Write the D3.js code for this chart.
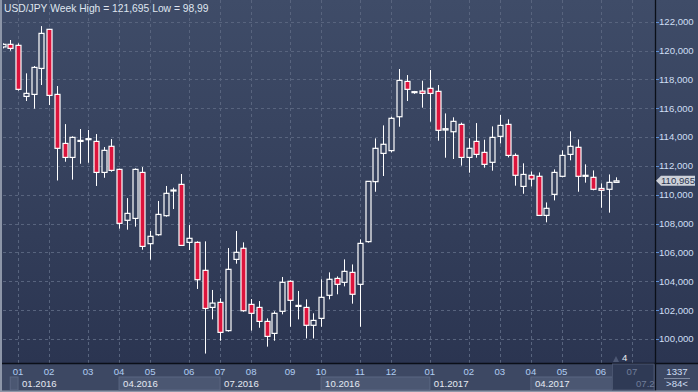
<!DOCTYPE html>
<html>
<head>
<meta charset="utf-8">
<script src="https://cdn.jsdelivr.net/npm/d3@7"></script>
<style>
html,body{margin:0;padding:0;background:#2c3653;}
svg{display:block;font-family:"Liberation Sans",Arial,sans-serif;}
</style>
</head>
<body>
<svg id="chart" width="698" height="392"></svg>
<script>
// ---- DATA (weekly USD/JPY candles) ----
const opens  = [120.25,120.43,120.36,116.82,116.96,118.76,121.47,116.96,113.56,112.59,
                113.70,113.82,113.70,111.55,113.36,111.76,108.23,108.36,111.55,106.61,
                107.23,108.55,110.26,110.72,106.70,106.70,104.76,102.19,102.54,100.58,
                105.52,106.29,102.40,102.19,101.22,100.39,101.92,104.00,102.26,102.19,
                100.95,101.43,103.03,104.20,103.93,104.62,103.79,106.75,110.91,112.87,
                113.06,115.41,117.86,117.10,117.19,117.38,117.17,114.49,114.37,114.88,
                112.59,113.70,112.94,112.25,114.05,114.88,112.73,110.58,111.35,111.28,
                108.57,110.03,111.28,112.80,113.29,111.28,111.21,110.44,110.38,110.86];
const highs  = [120.50,120.73,120.50,118.42,118.93,121.695,121.50,117.54,114.90,114.05,
                114.56,114.49,114.21,113.31,113.86,111.80,109.77,111.83,111.92,107.49,
                109.57,110.61,110.49,111.44,107.90,106.77,106.77,103.40,102.82,106.31,
                107.49,106.70,102.77,102.63,101.43,101.92,104.30,104.07,103.33,102.75,
                101.78,104.14,104.62,104.34,105.52,105.17,106.91,110.95,113.91,114.81,
                115.41,118.72,118.30,117.20,117.91,118.65,117.61,115.64,115.37,115.00,
                113.91,114.97,113.82,114.74,115.53,115.23,112.87,112.18,111.62,111.55,
                109.47,111.76,113.08,114.40,113.84,112.11,111.69,110.79,111.41,111.21];
const lows   = [120.15,119.99,117.22,116.50,115.97,117.61,116.22,110.99,112.29,111.05,
                112.15,112.22,110.61,111.18,111.60,107.65,107.58,107.79,106.19,105.50,
                107.16,108.48,109.01,106.45,106.17,103.47,98.99,101.36,99.88,100.51,
                105.22,101.89,100.58,100.78,99.47,99.88,101.71,100.85,101.36,100.04,
                100.04,100.85,102.75,103.10,103.65,102.45,100.85,106.68,110.21,111.30,
                112.94,114.72,116.50,117.00,116.04,115.07,113.75,112.57,112.48,112.02,
                111.53,112.57,111.88,111.67,113.56,112.59,110.63,110.07,110.58,108.55,
                108.09,109.61,111.21,112.39,110.21,110.84,110.31,109.10,108.76,110.86];
const closes = [120.43,120.15,117.31,117.03,118.83,121.19,116.89,113.22,112.59,113.98,
                113.77,113.89,111.55,113.08,111.69,108.02,108.71,111.76,106.42,107.12,
                108.64,110.10,110.33,106.49,106.98,104.11,102.12,102.49,100.46,104.83,
                106.01,101.96,101.78,101.22,100.18,101.78,103.93,102.68,102.33,100.95,
                101.29,102.89,104.14,103.79,104.69,103.10,106.63,110.93,113.22,113.50,
                115.30,117.93,117.31,117.15,117.03,117.03,114.47,114.58,115.09,112.59,
                113.22,112.80,112.11,113.98,114.81,112.73,111.35,111.41,111.09,108.57,
                109.06,111.55,112.73,113.36,111.28,111.35,110.38,110.31,110.86,110.965];

const monthIdx    = [2,6,11,15,19,24,28,32,37,41,46,50,55,60,64,68,72,77,81];
const monthLabels = ["01","02","03","04","05","06","07","08","09","10","11","12","01","02","03","04","05","06","07"];
const quarterIdx    = [2,15,28,41,55,68,81];
const quarterLabels = ["01.2016","04.2016","07.2016","10.2016","01.2017","04.2017","07.2"];
const yTicks = [100,102,104,106,108,110,112,114,116,118,120,122];
const title = "USD/JPY Week High = 121,695 Low = 98,99";
const lastPrice = 110.965;

// ---- LAYOUT ----
const W = 698, H = 392;
const plotLeft = 3, plotRight = 655, plotBottom = 363;
const FS = 9.6;
const svg = d3.select("#chart");

const x = d3.scaleLinear().domain([0, 81]).range([2.5, 631.9]);
const y = d3.scaleLinear().domain([100, 122]).range([339, 21.7]);
const fmt = v => d3.format(",.3f")(v).replace(".", "#").replace(/,/g, ".").replace("#", ",");

const defs = svg.append("defs");
const g1 = defs.append("linearGradient").attr("id","bg").attr("gradientUnits","userSpaceOnUse")
  .attr("x1",0).attr("y1",0).attr("x2",0).attr("y2",plotBottom);
g1.append("stop").attr("offset","0%").attr("stop-color","#3f4c68");
g1.append("stop").attr("offset","100%").attr("stop-color","#2b3551");
defs.append("clipPath").attr("id","clip").append("rect")
  .attr("x",plotLeft).attr("y",0).attr("width",plotRight-plotLeft).attr("height",plotBottom);

// backgrounds
svg.append("rect").attr("x",0).attr("y",0).attr("width",W).attr("height",plotBottom).attr("fill","url(#bg)");
svg.append("rect").attr("x",0).attr("y",plotBottom).attr("width",W).attr("height",H-plotBottom).attr("fill","#3d4863");

// grid
const grid = svg.append("g").attr("clip-path","url(#clip)");
grid.selectAll("line.h").data(yTicks).join("line")
  .attr("x1",plotLeft).attr("x2",plotRight)
  .attr("y1",d=>Math.round(y(d))+0.5).attr("y2",d=>Math.round(y(d))+0.5)
  .attr("stroke","#58647e").attr("stroke-dasharray","3,3").attr("stroke-width",1);
grid.selectAll("line.v").data(monthIdx).join("line")
  .attr("x1",d=>Math.round(x(d))+0.5).attr("x2",d=>Math.round(x(d))+0.5)
  .attr("y1",0).attr("y2",plotBottom)
  .attr("stroke","#58647e").attr("stroke-dasharray","3,3").attr("stroke-width",1);

// candles
const idx = d3.range(opens.length);
const candles = svg.append("g").attr("clip-path","url(#clip)");
candles.selectAll("line.wick").data(idx).join("line")
  .attr("x1",i=>Math.round(x(i))+0.5).attr("x2",i=>Math.round(x(i))+0.5)
  .attr("y1",i=>y(highs[i])).attr("y2",i=>y(lows[i]))
  .attr("stroke","#ffffff").attr("stroke-width",1);
const bw = 5;
candles.selectAll("rect.body").data(idx).join("rect")
  .attr("x",i=>Math.round(x(i))+0.5-bw/2)
  .attr("y",i=>y(Math.max(opens[i],closes[i])))
  .attr("width",bw)
  .attr("height",i=>Math.max(1,Math.abs(y(opens[i])-y(closes[i]))))
  .attr("fill",i=>closes[i]<opens[i] ? "#dc143c" : "url(#bg)")
  .attr("stroke","#ffffff").attr("stroke-width",1.2);

// separators
svg.append("line").attr("x1",0).attr("x2",W).attr("y1",plotBottom+0.5).attr("y2",plotBottom+0.5)
  .attr("stroke","#0b0f18").attr("stroke-width",1.3);
svg.append("line").attr("x1",plotRight+0.5).attr("x2",plotRight+0.5).attr("y1",0).attr("y2",H)
  .attr("stroke","#0b0f18").attr("stroke-width",1.3);
svg.append("rect").attr("x",0).attr("y",0).attr("width",2).attr("height",H).attr("fill","#8d96a8");
svg.append("rect").attr("x",0).attr("y",H-1.5).attr("width",W).attr("height",1.5).attr("fill","#8d96a8");

// right axis
const ra = svg.append("g");
ra.selectAll("line").data(yTicks).join("line")
  .attr("x1",plotRight+1).attr("x2",plotRight+4)
  .attr("y1",d=>Math.round(y(d))+0.5).attr("y2",d=>Math.round(y(d))+0.5)
  .attr("stroke","#5d8fd6");
ra.selectAll("text").data(yTicks).join("text")
  .attr("x",659).attr("y",d=>y(d)).attr("dy","0.35em")
  .attr("font-size",FS).attr("fill","#cfdff4")
  .text(d=>fmt(d));

// current price marker
const py = y(lastPrice);
svg.append("path")
  .attr("d",`M656,${py} L661,${py-5} L695,${py-5} L695,${py+5} L661,${py+5} Z`)
  .attr("fill","#cdd1d9");
svg.append("text").attr("x",661).attr("y",py).attr("dy","0.35em")
  .attr("font-size",FS).attr("fill","#2b3550").text(fmt(lastPrice));

// bottom axis: quarter bands
const bandRows = [[1,2],[15,28],[41,55],[68,78.5]];
svg.selectAll("rect.band").data(bandRows).join("rect")
  .attr("x",d=>x(d[0])).attr("y",plotBottom+14)
  .attr("width",d=>x(d[1])-x(d[0])).attr("height",13)
  .attr("fill","#4b5772").attr("stroke","#5b6782").attr("stroke-width",1);
// future box
svg.append("rect").attr("x",x(78.5)).attr("y",plotBottom+1).attr("width",plotRight-x(78.5)-1).attr("height",H-plotBottom-3)
  .attr("fill","#2f3a55").attr("stroke","#4a5570");

svg.selectAll("text.month").data(monthIdx).join("text")
  .attr("x",d=>x(d)).attr("y",372).attr("dy","0.35em").attr("text-anchor","middle")
  .attr("font-size",FS).attr("fill",(d,i)=>i===monthIdx.length-1?"#6f7d99":"#b0cdf2")
  .text((d,i)=>monthLabels[i]);
svg.selectAll("text.quarter").data(quarterIdx).join("text")
  .attr("x",(d,i)=>i===quarterIdx.length-1 ? 636 : x(d)+4).attr("y",383.5).attr("dy","0.35em")
  .attr("font-size",FS).attr("fill",(d,i)=>i===quarterIdx.length-1?"#6f7d99":"#e4e9f2")
  .text((d,i)=>quarterLabels[i]);

// corner box
svg.append("text").attr("x",677).attr("y",372).attr("dy","0.35em").attr("text-anchor","middle")
  .attr("font-size",FS).attr("fill","#cfdff4").text("1337");
svg.append("line").attr("x1",664).attr("x2",690).attr("y1",378.5).attr("y2",378.5).attr("stroke","#7f8aa0");
svg.append("text").attr("x",677).attr("y",384).attr("dy","0.35em").attr("text-anchor","middle")
  .attr("font-size",FS).attr("fill","#cfdff4").text(">84<");

// small marker "4"
svg.append("path").attr("d","M613,362 L616,356 L619,362 Z").attr("fill","#4d5874");
svg.append("text").attr("x",622).attr("y",358).attr("dy","0.35em")
  .attr("font-size",FS).attr("fill","#e8ecf3").text("4");

// title
svg.append("text").attr("x",4).attr("y",8.5).attr("dy","0.35em")
  .attr("font-size",10.3).attr("fill","#dfe5ef").text(title);
</script>
</body>
</html>
